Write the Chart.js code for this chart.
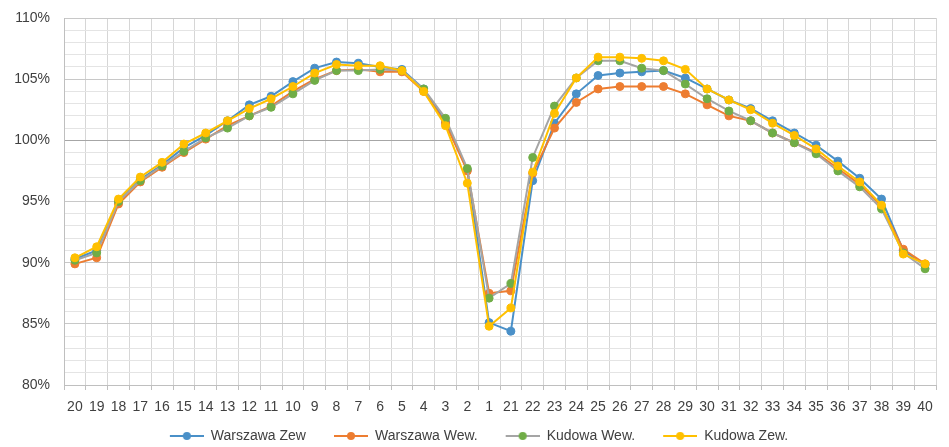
<!DOCTYPE html>
<html><head><meta charset="utf-8">
<script src="https://cdn.jsdelivr.net/npm/chart.js@4.4.1/dist/chart.umd.min.js"></script>
<style>html,body{margin:0;padding:0;background:#fff;}#wrap{width:949px;height:447px;position:relative;}</style>
</head><body><div id="wrap"><canvas id="c"></canvas></div>
<script>
const categories = ['20','19','18','17','16','15','14','13','12','11','10','9','8','7','6','5','4','3','2','1',
  '21','22','23','24','25','26','27','28','29','30','31','32','33','34','35','36','37','38','39','40'];
const warszawaZew = [90.3,91.0,95.0,96.8,98.0,99.4,100.4,101.6,102.9,103.6,104.8,105.9,106.4,106.3,106.0,105.8,104.2,101.5,97.6,85.1,
  84.4,96.7,101.4,103.8,105.3,105.5,105.6,105.7,105.1,104.2,103.3,102.6,101.6,100.6,99.6,98.3,96.9,95.2,91.0,89.8];
const warszawaWew = [89.9,90.4,94.8,96.6,97.8,99.0,100.1,101.2,102.0,102.8,104.0,105.0,105.7,105.8,105.6,105.6,104.0,101.4,97.5,87.5,
  87.7,97.3,101.0,103.1,104.2,104.4,104.4,104.4,103.8,102.9,102.0,101.6,100.6,99.8,99.0,97.7,96.4,94.6,91.1,89.9];
const kudowaWew = [90.2,90.8,95.0,96.7,97.9,99.1,100.2,101.0,102.0,102.7,103.8,104.9,105.7,105.7,105.8,105.7,104.2,101.8,97.7,87.1,
  88.3,98.6,102.8,105.1,106.5,106.5,105.9,105.7,104.6,103.4,102.4,101.6,100.6,99.8,98.9,97.5,96.2,94.4,90.8,89.5];
const kudowaZew = [90.4,91.3,95.2,97.0,98.2,99.7,100.6,101.6,102.6,103.4,104.4,105.5,106.2,106.1,106.1,105.7,104.0,101.2,96.5,84.8,
  86.3,97.4,102.2,105.1,106.8,106.8,106.7,106.5,105.8,104.2,103.3,102.5,101.4,100.4,99.3,97.9,96.6,94.7,90.7,89.9];
const seriesNames = ['Warszawa Zew','Warszawa Wew.','Kudowa Wew.','Kudowa Zew.'];
const yLabels = [80,85,90,95,100,105,110];

const lineColors = ['#4A90C8','#ED7D31','#A5A5A5','#FFC000'];
const dotColors  = ['#4A90C8','#ED7D31','#70AD47','#FFC000'];
const FONT = '"Liberation Sans", Arial, sans-serif';
const TXT = '#404040';
const LEG_MARGIN = 22, LEG_LINE = 34;

function legendImg(line, dot){
  const c=document.createElement('canvas'); c.width=LEG_MARGIN+LEG_LINE; c.height=10;
  const g=c.getContext('2d');
  g.strokeStyle=line; g.lineWidth=2; g.beginPath(); g.moveTo(LEG_MARGIN,5); g.lineTo(LEG_MARGIN+LEG_LINE,5); g.stroke();
  g.fillStyle=dot; g.beginPath(); g.arc(LEG_MARGIN+LEG_LINE/2,5,4,0,Math.PI*2); g.fill();
  return c;
}
const legendImgs = lineColors.map((c,i)=>legendImg(c,dotColors[i]));

const allSeries=[warszawaZew,warszawaWew,kudowaWew,kudowaZew];
const datasets = allSeries.map((d,i)=>({
  label: seriesNames[i], data: d,
  borderColor: lineColors[i], backgroundColor: dotColors[i],
  pointBackgroundColor: dotColors[i], pointBorderColor: dotColors[i],
  pointRadius: 4, pointBorderWidth: 1, borderWidth: 2, tension: 0,
  order: 4-i
}));

new Chart(document.getElementById('c'), {
  type: 'line',
  data: { labels: categories, datasets },
  options: {
    responsive: true, maintainAspectRatio: false, animation: false,
    layout: { padding: { top: 18, right: 13, left: 0, bottom: -6 } },
    plugins: {
      tooltip: { enabled: false },
      legend: {
        position: 'bottom',
        labels: {
          usePointStyle: true, pointStyleWidth: LEG_MARGIN+LEG_LINE, padding: 6,
          font: { family: FONT, size: 14 }, color: TXT,
          generateLabels: (chart) => seriesNames.map((n,i)=>({
            text: n, pointStyle: legendImgs[i], fillStyle: dotColors[i], strokeStyle: lineColors[i],
            lineWidth: 0, hidden: false, datasetIndex: i, fontColor: TXT
          }))
        }
      }
    },
    scales: {
      x: {
        offset: true,
        grid: { offset: true, color: '#d6d6d6', drawTicks: true, tickLength: 5, tickColor: '#bfbfbf' },
        border: { color: '#bfbfbf' },
        ticks: { autoSkip: false, maxRotation: 0, font: { family: FONT, size: 14 }, color: TXT, padding: 9 },
        afterFit: (s) => { s.height = 38; }
      },
      y: {
        min: 80, max: 110,
        border: { color: '#bfbfbf' },
        grid: { drawTicks: false,
          color: (ctx) => { const v = ctx.tick ? ctx.tick.value : 0; return v===100 ? '#a6a6a6' : (v%5===0 ? '#c8c8c8' : '#e4e4e4'); } },
        ticks: { stepSize: 1, autoSkip: false, padding: 14,
          font: { family: FONT, size: 14 }, color: TXT,
          callback: (v) => yLabels.includes(v) ? v + '%' : '' },
        afterFit: (s) => { s.width = 64; s.paddingTop = 0; s.paddingBottom = 0; }
      }
    }
  }
});
</script></body></html>
